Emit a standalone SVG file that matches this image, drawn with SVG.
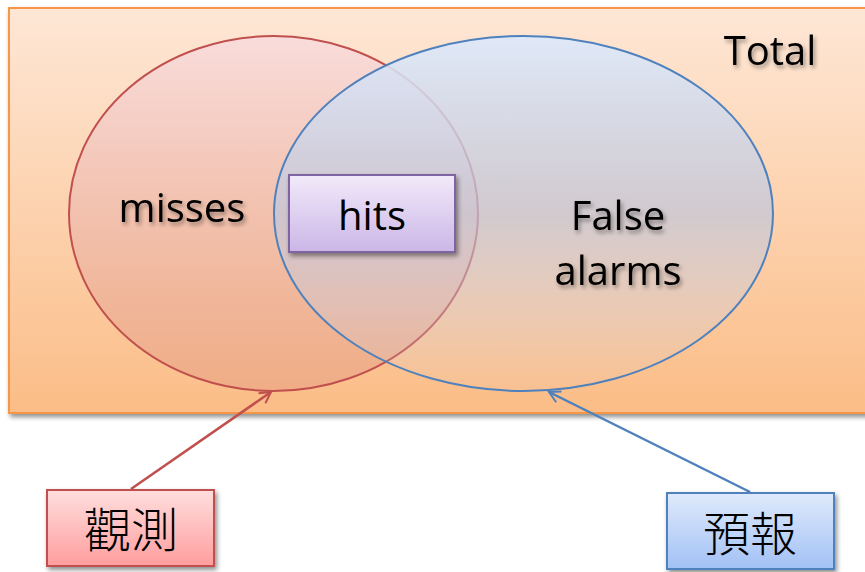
<svg xmlns="http://www.w3.org/2000/svg" width="865" height="572" viewBox="0 0 865 572">
<defs>
<linearGradient id="gTotal" x1="0" y1="0" x2="0" y2="1"><stop offset="0" stop-color="#fee7d6"/><stop offset="1" stop-color="#fbbd87"/></linearGradient>
<linearGradient id="gRed" x1="0" y1="0" x2="0" y2="1"><stop offset="0" stop-color="#f9dcdc" stop-opacity="0.95"/><stop offset="1" stop-color="#e49a80" stop-opacity="0.5"/></linearGradient>
<linearGradient id="gBlue" x1="0" y1="0" x2="0" y2="1"><stop offset="0" stop-color="#dde9fb" stop-opacity="0.92"/><stop offset="0.5" stop-color="#bfc6dc" stop-opacity="0.7"/><stop offset="1" stop-color="#d0d4e6" stop-opacity="0.05"/></linearGradient>
<linearGradient id="gHits" x1="0" y1="0" x2="0" y2="1"><stop offset="0" stop-color="#f2eafa"/><stop offset="1" stop-color="#cbb6e6"/></linearGradient>
<linearGradient id="gObs" x1="0" y1="0" x2="0" y2="1"><stop offset="0" stop-color="#ffdede"/><stop offset="1" stop-color="#ff9d9d"/></linearGradient>
<linearGradient id="gFc" x1="0" y1="0" x2="0" y2="1"><stop offset="0" stop-color="#dfeafc"/><stop offset="1" stop-color="#a2c1f5"/></linearGradient>
<filter id="sh" x="-10%" y="-10%" width="130%" height="140%"><feGaussianBlur in="SourceAlpha" stdDeviation="2.5"/><feOffset dx="2" dy="3"/><feComponentTransfer><feFuncA type="linear" slope="0.45"/></feComponentTransfer><feMerge><feMergeNode/><feMergeNode in="SourceGraphic"/></feMerge></filter>
<filter id="tsh" x="-20%" y="-30%" width="140%" height="170%"><feGaussianBlur in="SourceAlpha" stdDeviation="2"/><feOffset dx="2" dy="3"/><feComponentTransfer><feFuncA type="linear" slope="0.4"/></feComponentTransfer><feMerge><feMergeNode/><feMergeNode in="SourceGraphic"/></feMerge></filter>
<marker id="arrR" viewBox="0 0 14 14" refX="12" refY="7" markerWidth="14" markerHeight="14" markerUnits="userSpaceOnUse" orient="auto"><path d="M1,1 L12,7 L1,13" fill="none" stroke="#c0504d" stroke-width="2"/></marker>
<marker id="arrB" viewBox="0 0 14 14" refX="12" refY="7" markerWidth="14" markerHeight="14" markerUnits="userSpaceOnUse" orient="auto"><path d="M1,1 L12,7 L1,13" fill="none" stroke="#4f81bd" stroke-width="2"/></marker>
</defs>
<style>
.lbl{font-family:"Open Sans","Liberation Sans",sans-serif;font-size:40px;fill:#000;text-anchor:middle}
.cjk{font-family:"Noto Sans CJK TC","Noto Sans CJK SC",serif;font-size:47px;fill:#000;text-anchor:middle;font-weight:300}
</style>
<g id="total">
<rect x="9" y="8" width="870" height="405" fill="url(#gTotal)" stroke="#f79646" stroke-width="2" filter="url(#sh)"/>
<text class="lbl" x="770" y="65" filter="url(#tsh)">Total</text>
</g>
<g id="misses">
<ellipse cx="273.5" cy="213.5" rx="204.5" ry="177.5" fill="url(#gRed)" stroke="#c0504d" stroke-width="2"/>
<text class="lbl" x="182" y="222" filter="url(#tsh)">misses</text>
</g>
<g id="falsealarms">
<ellipse cx="523.5" cy="213.5" rx="249.5" ry="177.5" fill="url(#gBlue)" stroke="#4f81bd" stroke-width="2"/>
<text class="lbl" x="618" y="230" filter="url(#tsh)">False</text>
<text class="lbl" x="618" y="285" filter="url(#tsh)">alarms</text>
</g>
<g id="hits">
<rect x="289" y="175" width="166" height="77" fill="url(#gHits)" stroke="#8064a2" stroke-width="2" filter="url(#sh)"/>
<text class="lbl" x="372" y="230">hits</text>
</g>
<g id="connectors">
<line x1="131" y1="489" x2="271" y2="392" stroke="#c0504d" stroke-width="2.5" marker-end="url(#arrR)"/>
<line x1="750" y1="492" x2="549" y2="392" stroke="#4f81bd" stroke-width="2.5" marker-end="url(#arrB)"/>
</g>
<g id="obs">
<rect x="47" y="490" width="167" height="76" fill="url(#gObs)" stroke="#c0504d" stroke-width="2" filter="url(#sh)"/>
<text class="cjk" x="131" y="547">觀測</text>
</g>
<g id="fcst">
<rect x="667" y="493" width="167" height="76" fill="url(#gFc)" stroke="#4f81bd" stroke-width="2" filter="url(#sh)"/>
<text class="cjk" x="750" y="551">預報</text>
</g>
</svg>
